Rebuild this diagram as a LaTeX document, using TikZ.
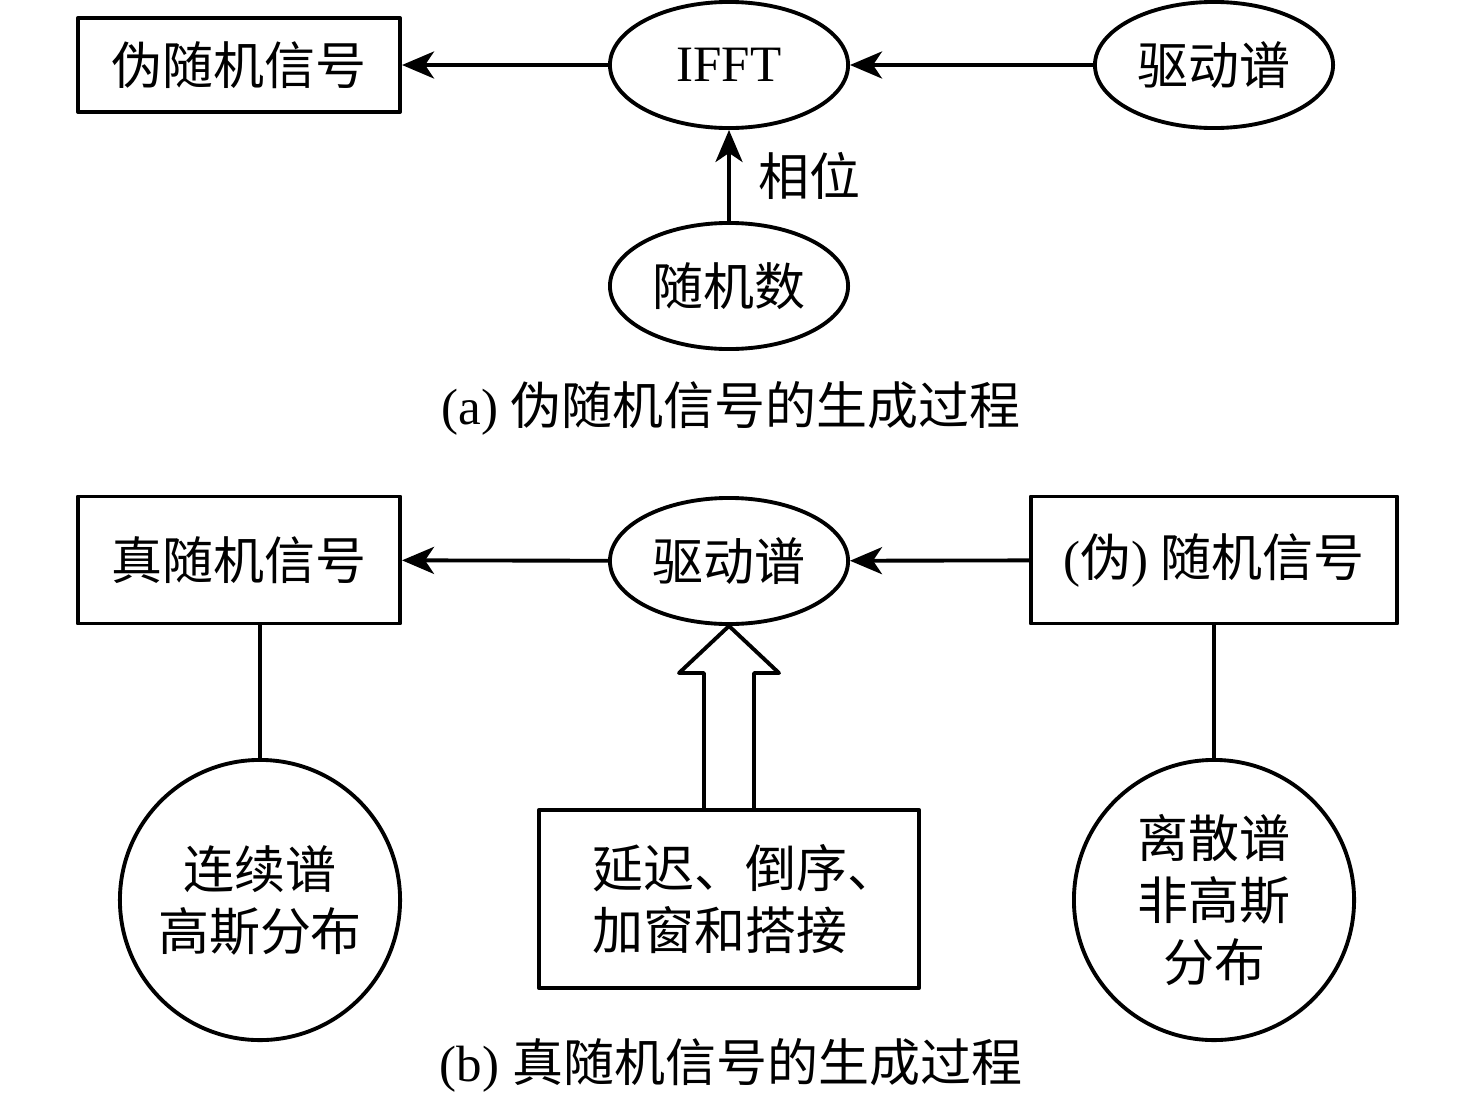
\documentclass[tikz,border=0pt]{standalone}
\usepackage{fontspec}
\setmainfont{Liberation Serif}
\newfontfamily\cjk{Noto Sans CJK SC}
\usetikzlibrary{arrows.meta,shapes.geometric,calc}
\newcommand{\zh}[1]{{\cjk #1}}

\begin{document}
\begin{tikzpicture}[line cap=round,line join=round,>={Stealth[length=0.32cm,width=0.27cm,inset=0.09cm]},x=0.01cm,y=-0.01cm,line width=1.1pt,font=\fontsize{14.5}{17.6}\selectfont]
                \tikzset{box/.style={draw,rectangle,minimum width=3.22cm,inner sep=0pt},
                         oval/.style={draw,ellipse,minimum width=2.38cm,minimum height=1.26cm,inner sep=0pt},
                         ring/.style={draw,circle,minimum size=2.8cm,inner sep=0pt,align=center}}
                \useasboundingbox (0,0) rectangle (1476,1100);
                % (a)
                \node[box,minimum height=0.94cm] (pseudo) at (239,65) {\zh{伪随机信号}};
                \node[oval] (ifft) at (729,65) {IFFT};
                \node[oval] (drv1) at (1214,65) {\zh{驱动谱}};
                \node[oval] (rnd) at (729,286) {\zh{随机数}};
                \draw [->] (ifft) -- (pseudo);
                \draw [->] (drv1) -- (ifft);
                \draw [->] (rnd) -- (ifft) node[midway,right,xshift=0.16cm] {\zh{相位}};
                \node (capa) at (731,408) {(a) \zh{伪随机信号的生成过程}};
                % (b)
                \node[box,minimum height=1.27cm] (tsig) at (239,560) {\zh{真随机信号}};
                \node[oval] (drv2) at (729,561) {\zh{驱动谱}};
                \node[box,minimum width=3.66cm,minimum height=1.27cm] (psig) at (1214,560) {(\zh{伪}) \zh{随机信号}};
                \draw [->] (drv2) -- (tsig);
                \draw [->] (psig) -- (drv2);
                \node[ring] (cont) at (260,900) {\zh{连续谱}\\\zh{高斯分布}};
                \node[ring] (disc) at (1214,900) {\zh{离散谱}\\\zh{非高斯}\\\zh{分布}};
                \node[box,minimum width=3.8cm,minimum height=1.78cm,align=left] (dly) at (729,899) {\hspace*{0.32cm}\zh{延迟、倒序、}\\\hspace*{0.32cm}\zh{加窗和搭接}};
                \draw (cont.north) -- (cont.north |- tsig.south);
                \draw (psig) -- (disc);
                \draw ($(dly.north)+(-25,0)$) -- ++(0,-135) -- ++(-25,0) -- (drv2.south) -- ($(dly.north)+(50,-135)$) -- ++(-25,0) -- ($(dly.north)+(25,0)$);
                \node (capb) at (731,1065) {(b) \zh{真随机信号的生成过程}};
\end{tikzpicture}
\end{document}
